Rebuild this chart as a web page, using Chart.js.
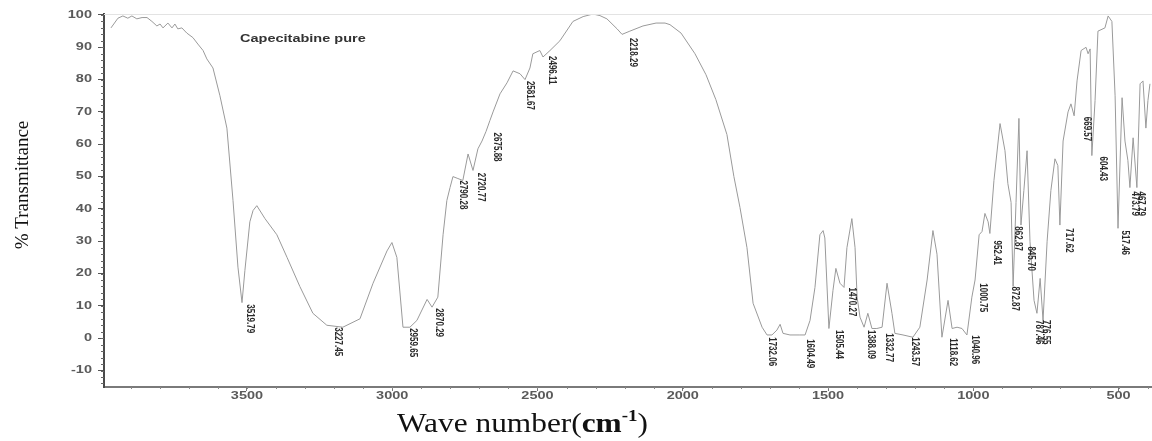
<!DOCTYPE html>
<html>
<head>
<meta charset="utf-8">
<script src="https://cdn.jsdelivr.net/npm/chart.js@4.4.1/dist/chart.umd.min.js"></script>
<style>
  html, body { margin: 0; padding: 0; background: #ffffff; overflow: hidden; }
  canvas { display: block; }
</style>
</head>
<body>
<canvas id="c" width="1152" height="441"></canvas>
<script>
// ---- Data ----
const wavenumber = [3968,3944,3927,3910,3896,3879,3861,3844,3827,3810,3799,3789,3772,3758,3748,3738,3724,3707,3686,3669,3651,3638,3617,3593,3569,3548,3531,3517,3507,3490,3479,3466,3438,3397,3362,3318,3273,3225,3170,3111,3066,3018,3001,2984,2963,2939,2915,2880,2863,2843,2825,2812,2801,2791,2774,2757,2739,2722,2705,2691,2677,2664,2653,2629,2605,2584,2560,2543,2526,2516,2492,2481,2457,2423,2378,2343,2309,2285,2261,2226,2209,2182,2137,2092,2061,2044,2006,1958,1920,1886,1848,1824,1803,1779,1758,1727,1710,1693,1676,1665,1655,1631,1597,1579,1562,1545,1528,1517,1511,1497,1483,1473,1459,1445,1435,1418,1407,1400,1390,1376,1363,1349,1332,1314,1297,1280,1270,1242,1208,1184,1159,1139,1125,1108,1087,1073,1056,1039,1022,1005,994,980,970,960,949,943,929,908,891,881,870,863,853,843,836,826,815,805,791,781,770,760,746,733,719,709,702,691,674,664,653,643,629,612,605,598,592,581,571,547,536,523,512,502,488,478,468,461,450,437,426,416,406,399,392];
const transmittance = [96,99,99.7,99,99.7,98.8,99.2,99.2,98,96.6,97.2,96,97.5,96,97.2,95.7,96,94.4,93,91,89,86.4,83.6,75,65,42.6,22,11,21,36,39.5,41,37,32,25,16,7.7,4,3.4,6,17,27,29.6,25,3.4,3.4,5.5,12,9.6,12.7,32,42.6,46.6,50,49.4,48.8,57,51.9,58.6,61,64,67.3,70,75.6,79,82.7,81.8,80,83.6,88,89,87,89,92,98,99.5,100.3,99.8,98.8,95.7,94,95,96.6,97.5,97.5,97,94.4,88,81.5,73.8,63,50,40.4,28,10.8,3.4,1,1,2.5,4.3,1.5,1,1,1,5.5,15.7,32,33.3,31,3,14.8,21.6,17,15.7,28,37,28,12.7,6.5,3.4,7.7,3,3,3.4,17,7.7,1.5,1,0.3,3.4,18,33.3,26,0.3,11.7,3,3.4,3,1,12.7,18,32,33,38.6,36,32.4,48.8,66.4,58,47.8,42,16,42,68,35,45.7,58,30,11.7,7.7,18.5,5.5,30,45.7,55.5,53.4,35,61,70,72.5,68.8,79.6,89,90,88,89.5,56.5,73.5,95,96,99.7,98,75,34,74.4,61,55,46.6,62,46.6,78.7,79.6,65,73.5,78.7];

// Peak annotations (text, anchor wavenumber, anchor %T at label top)
const peakText = ["3519.79","3227.45","2959.65","2870.29","2790.28","2720.77","2675.88","2581.67","2496.11","2218.29","1732.06","1604.49","1505.44","1470.27","1388.09","1332.77","1243.57","1118.62","1040.96","1000.75","952.41","862.87","872.87","845.70","787.46","776.55","717.62","669.57","604.43","517.46","473.79","467.79"];
const peakX = [3490,3187,2929,2839,2757,2695,2639,2526,2450,2171,1693,1562,1462,1418,1352,1290,1201,1070,994,967,918,846,856,801,774,750,671,609,554,478,443,423];
const peakY = [10.5,3.4,3.1,9.3,48.8,51.2,63.6,79.6,87.3,92.9,0.3,-0.3,2.5,15.7,2.5,1.5,0.3,0,0.9,17,30.2,34.6,16,28.4,5.6,5.6,34,68.5,56.2,33.3,45.4,45.4];

const xTicks = [3500,3000,2500,2000,1500,1000,500];
const yTicks = [-10,0,10,20,30,40,50,60,70,80,90,100];

const seriesName = "Capecitabine pure";
const xTitle = ["Wave number(", "cm", "-1", ")"];
const yTitle = "% Transmittance";

const points = wavenumber.map((w, i) => ({ x: w, y: transmittance[i] }));

const drawPlugin = {
  id: 'drawExtras',
  afterDraw(chart) {
    const ctx = chart.ctx;
    const a = chart.chartArea;
    const xs = chart.scales.x, ys = chart.scales.y;
    ctx.save();
    // top frame line
    ctx.strokeStyle = '#e3e3e3';
    ctx.lineWidth = 1;
    ctx.beginPath();
    ctx.moveTo(a.left, a.top + 0.5);
    ctx.lineTo(a.right, a.top + 0.5);
    ctx.stroke();

    // minor ticks
    ctx.strokeStyle = '#666';
    for (let v = -14; v <= 100; v += 2) {
      const py = Math.round(ys.getPixelForValue(v)) + 0.5;
      ctx.beginPath(); ctx.moveTo(a.left - 3, py); ctx.lineTo(a.left, py); ctx.stroke();
    }
    ctx.strokeStyle = '#888';
    for (let v = 400; v <= 3900; v += 100) {
      const px = Math.round(xs.getPixelForValue(v)) + 0.5;
      ctx.beginPath(); ctx.moveTo(px, a.bottom); ctx.lineTo(px, a.bottom + 2); ctx.stroke();
    }

    function stretched(text, px, py, align, font, sx, color) {
      ctx.save();
      ctx.translate(px, py);
      ctx.scale(sx, 1);
      ctx.font = font;
      ctx.fillStyle = color;
      ctx.textAlign = align;
      ctx.textBaseline = 'middle';
      ctx.fillText(text, 0, 0);
      ctx.restore();
    }

    // tick labels
    yTicks.forEach(v => {
      stretched(String(v), a.left - 12, ys.getPixelForValue(v), 'right', 'bold 10px "Liberation Sans", Arial, sans-serif', 1.45, '#5a5a5a');
    });
    xTicks.forEach(v => {
      stretched(String(v), xs.getPixelForValue(v), a.bottom + 9, 'center', 'bold 10px "Liberation Sans", Arial, sans-serif', 1.45, '#5a5a5a');
    });

    // series label
    ctx.save();
    ctx.translate(240, 39);
    ctx.scale(1.45, 1);
    ctx.font = 'bold 10px "Liberation Sans", Arial, sans-serif';
    ctx.fillStyle = '#333';
    ctx.textAlign = 'left';
    ctx.textBaseline = 'middle';
    ctx.fillText(seriesName, 0, 0);
    ctx.restore();

    // peak labels
    peakText.forEach((t, i) => {
      const px = xs.getPixelForValue(peakX[i]);
      const py = ys.getPixelForValue(peakY[i]);
      ctx.save();
      ctx.translate(px, py);
      ctx.rotate(Math.PI / 2);
      ctx.scale(1, 1.3);
      ctx.font = 'bold 8px "Liberation Sans", Arial, sans-serif';
      ctx.fillStyle = '#2a2a2a';
      ctx.textAlign = 'left';
      ctx.textBaseline = 'middle';
      ctx.fillText(t, 0, 0);
      ctx.restore();
    });

    // y title
    ctx.save();
    ctx.translate(23, 185);
    ctx.rotate(-Math.PI / 2);
    ctx.font = '19px "Liberation Serif", "Times New Roman", serif';
    ctx.fillStyle = '#111';
    ctx.textAlign = 'center';
    ctx.textBaseline = 'middle';
    ctx.fillText(yTitle, 0, 0);
    ctx.restore();

    // x title
    ctx.save();
    ctx.translate(397, 432);
    ctx.scale(1.12, 1);
    ctx.fillStyle = '#111';
    ctx.textAlign = 'left';
    ctx.textBaseline = 'alphabetic';
    let cx = 0;
    ctx.font = '28px "Liberation Serif", "Times New Roman", serif';
    ctx.fillText(xTitle[0], cx, 0); cx += ctx.measureText(xTitle[0]).width;
    ctx.font = 'bold 28px "Liberation Serif", "Times New Roman", serif';
    ctx.fillText(xTitle[1], cx, 0); cx += ctx.measureText(xTitle[1]).width;
    ctx.font = 'bold 17px "Liberation Serif", "Times New Roman", serif';
    ctx.fillText(xTitle[2], cx, -11); cx += ctx.measureText(xTitle[2]).width;
    ctx.font = '28px "Liberation Serif", "Times New Roman", serif';
    ctx.fillText(xTitle[3], cx, 0);
    ctx.restore();

    ctx.restore();
  }
};

new Chart(document.getElementById('c'), {
  type: 'line',
  data: {
    datasets: [{
      label: seriesName,
      data: points,
      borderColor: '#9a9a9a',
      borderWidth: 1,
      pointRadius: 0,
      tension: 0,
      fill: false
    }]
  },
  options: {
    responsive: false,
    devicePixelRatio: 1,
    animation: false,
    layout: { padding: { top: 14, right: 0, left: 0, bottom: 0 } },
    plugins: { legend: { display: false }, tooltip: { enabled: false } },
    scales: {
      x: {
        type: 'linear',
        reverse: true,
        min: 385,
        max: 3992,
        afterBuildTicks: s => { s.ticks = xTicks.map(v => ({ value: v })); },
        afterFit: s => { s.height = 54; },
        ticks: { display: false },
        grid: { display: true, drawOnChartArea: false, drawTicks: true, tickLength: 4, color: '#777' },
        border: { display: true, color: '#7a7a7a', width: 2 }
      },
      y: {
        type: 'linear',
        min: -15.1,
        max: 100.3,
        afterBuildTicks: s => { s.ticks = yTicks.map(v => ({ value: v })); },
        afterFit: s => { s.width = 104; },
        ticks: { display: false },
        grid: { display: true, drawOnChartArea: false, drawTicks: true, tickLength: 6, color: '#555' },
        border: { display: true, color: '#4a4a4a', width: 2 }
      }
    }
  },
  plugins: [drawPlugin]
});
</script>
</body>
</html>
